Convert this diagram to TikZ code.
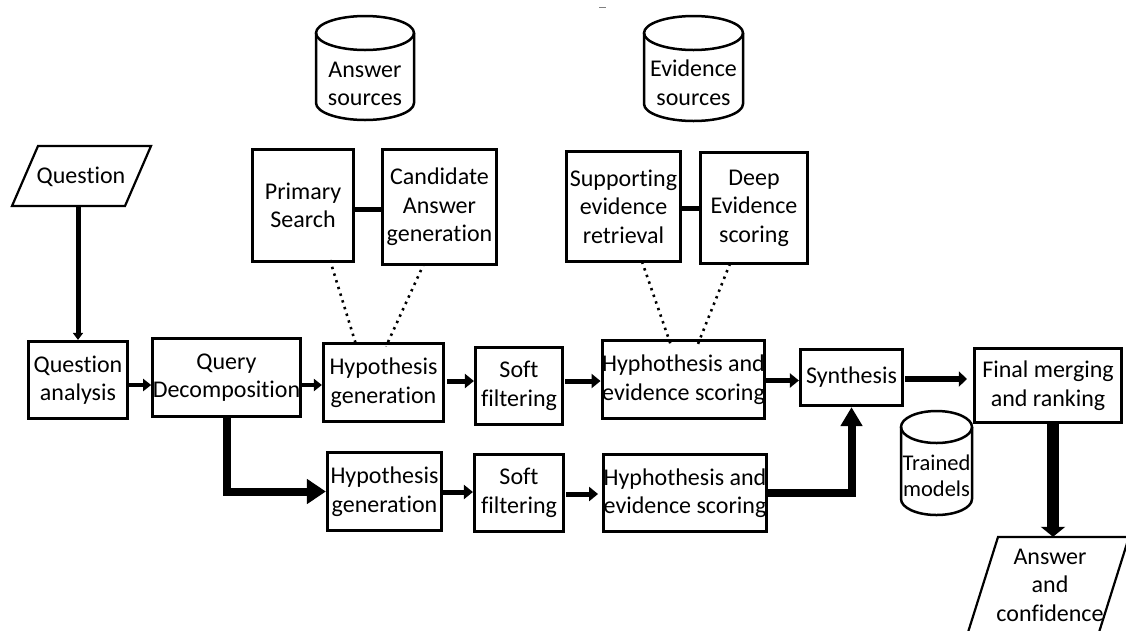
\documentclass[tikz,border=0pt]{standalone}
\usepackage{fontspec}
\setmainfont{Carlito}[Ligatures={NoCommon}]
\usetikzlibrary{arrows.meta,calc}
\newcommand\dbcyl[5]{%
  \draw[line width=2.5pt,fill=white] (#1-#3,#2-#4+#5) -- (#1-#3,#2+#4-#5)
     arc[start angle=180,end angle=360,x radius=#3pt,y radius=#5pt] -- (#1+#3,#2-#4+#5);
  \draw[line width=2.5pt] (#1,#2-#4+#5) ellipse[x radius=#3pt,y radius=#5pt];}
\begin{document}
\begin{tikzpicture}[x=1pt,y=-1pt,line join=miter,
  every node/.style={font=\fontsize{24}{28.5}\selectfont, align=center, inner sep=0pt},
  box/.style={draw, line width=3.2pt},
  arr/.style={line width=5pt, -{Triangle[length=9pt,width=14pt]}},
  thinarr/.style={line width=4pt, -{Triangle[length=8pt,width=12pt]}},
  bigarr/.style={line width=8pt, -{Triangle[length=19pt,width=24pt]}},
  downarr/.style={line width=12pt, -{Triangle[length=10pt,width=24pt]}},
  link/.style={line width=5pt},
  dots/.style={line width=2.6pt, dash pattern=on 2.4pt off 4.6pt}
]
\useasboundingbox (0,0) rectangle (1126,630);

% stray mark
\draw[gray, line width=0.8pt] (599,7) -- (606,7);

% databases
\dbcyl{365}{68}{49}{52}{17}
\node (as) at (365,84) {Answer\\sources};
\dbcyl{693.5}{68.5}{49.5}{52.5}{17}
\node (es) at (693.5,83) {Evidence\\sources};
\dbcyl{936.5}{463}{35.5}{52}{16}
\node[font=\fontsize{22.5}{26.5}\selectfont] (tm) at (936.5,476) {Trained\\models};

% question parallelogram
\draw[line width=2.2pt] (38,146) -- (151,146) -- (125,206) -- (12,206) -- cycle;
\node[minimum height=60pt] (q) at (81,177) {Question};

% answer parallelogram (clipped by picture edge)
\begin{scope}
\clip (0,0) rectangle (1126,630);
\draw[line width=2.2pt] (998,537) -- (1129,537) -- (1095,645) -- (964,645) -- cycle;
\end{scope}
\node[minimum height=96pt] (ans) at (1050,585) {Answer\\and\\confidence};

% boxes
\node[box, minimum width=99pt, minimum height=77pt] (qa) at (78,380) {Question\\analysis};
\node[box, minimum width=146pt, minimum height=78pt] (qd) at (226.5,377.5) {Query\\Decomposition};
\node[box, minimum width=120pt, minimum height=78pt] (hg1) at (383.5,382.5) {Hypothesis\\generation};
\node[box, minimum width=87pt, minimum height=77pt] (sf1) at (519,386) {Soft\\filtering};
\node[box, minimum width=162pt, minimum height=78pt] (he1) at (683.5,379.5) {Hyphothesis and\\evidence scoring};
\node[box, minimum width=102pt, minimum height=56pt] (syn) at (851.5,377.5) {Synthesis};
\node[box, minimum width=147pt, minimum height=74pt] (fm) at (1048,385.5) {Final merging\\and ranking};

\node[box, minimum width=101pt, minimum height=112pt] (ps) at (303,205.5) {Primary\\Search};
\node[box, minimum width=114pt, minimum height=115pt] (ca) at (439.5,207) {Candidate\\Answer\\generation};
\node[box, minimum width=114pt, minimum height=110pt] (se) at (623.5,206.5) {Supporting\\evidence\\retrieval};
\node[box, minimum width=107pt, minimum height=111pt] (de) at (754,208) {Deep\\Evidence\\scoring};

\node[box, minimum width=114pt, minimum height=78pt] (hg2) at (384.5,491.5) {Hypothesis\\generation};
\node[box, minimum width=89pt, minimum height=77pt] (sf2) at (519,493) {Soft\\filtering};
\node[box, minimum width=161pt, minimum height=77pt] (he2) at (685,493) {Hyphothesis and\\evidence scoring};

% links
\draw[link] ([yshift=-3.5pt]ps.east) -- ([yshift=-3.5pt]ps.east -| ca.west);
\draw[link] ([yshift=-1.5pt]se.east) -- ([yshift=-1.5pt]se.east -| de.west);

% dotted
\draw[dots] ([xshift=27pt,yshift=3pt]ps.south) -- ([xshift=-27.5pt,yshift=-2.5pt]hg1.north);
\draw[dots] ([xshift=-15.5pt,yshift=2.5pt]ca.south) -- ([xshift=2.5pt,yshift=-4.5pt]hg1.north);
\draw[dots] ([xshift=18.5pt,yshift=1.5pt]se.south) -- ([xshift=-12.5pt,yshift=-6.5pt]he1.north);
\draw[dots] ([xshift=-24pt,yshift=1.5pt]de.south) -- ([xshift=13.5pt,yshift=-7.5pt]he1.north);

% arrows
\draw[line width=5pt, -{Triangle[length=7pt,width=10pt]}] (q.south -| qa.north) -- (qa.north);
\draw[thinarr] ([yshift=-5pt]qa.east) -- ([yshift=-5pt]qa.east -| qd.west);
\draw[thinarr] ([yshift=-7.5pt]qd.east) -- ([yshift=-7.5pt]qd.east -| hg1.west);
\draw[arr, shorten <=2pt] ([yshift=1.5pt]hg1.east) -- ([yshift=1.5pt]hg1.east -| sf1.west);
\draw[arr, shorten <=1pt] ([yshift=5pt]sf1.east) -- ([yshift=5pt]sf1.east -| he1.west);
\draw[arr] ([yshift=-1pt]he1.east) -- ([yshift=-1pt]he1.east -| syn.west);
\draw[line width=6pt, -{Triangle[length=8pt,width=15pt]}, shorten <=1pt, shorten >=6pt] ([yshift=-1.5pt]syn.east) -- ([yshift=-1.5pt]syn.east -| fm.west);
\draw[bigarr] (qd.south) |- (hg2.west);
\draw[arr] ([yshift=-0.5pt]hg2.east) -- ([yshift=-0.5pt]hg2.east -| sf2.west);
\draw[arr, shorten <=1pt, shorten >=4pt] ([yshift=-1pt]sf2.east) -- ([yshift=-1pt]sf2.east -| he2.west);
\draw[line width=8pt, -{Triangle[length=19pt,width=21pt]}] (he2.east) -| (syn.south);
\draw[downarr] ([xshift=5pt]fm.south) -- ([xshift=5pt]fm.south |- ans.north);
\end{tikzpicture}
\end{document}
